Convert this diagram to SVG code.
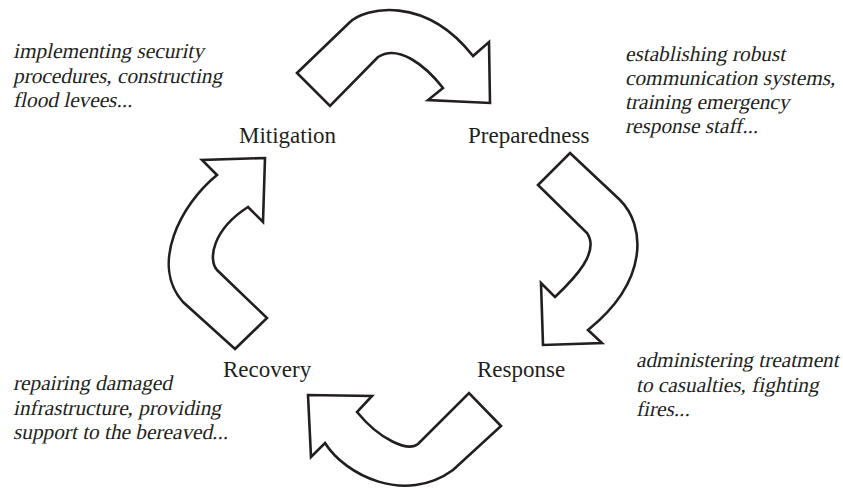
<svg xmlns="http://www.w3.org/2000/svg" width="843" height="490" viewBox="0 0 843 490">
<style>
.lbl{font-family:"Liberation Serif","Times New Roman",serif;font-size:23px;fill:#231f20}
.desc{font-family:"Liberation Serif","Times New Roman",serif;font-size:21.3px;fill:#231f20}
.arr{fill:#fff;stroke:#231f20;stroke-width:2.6;stroke-linejoin:miter}
</style>
<rect width="843" height="490" fill="#fff"/>
<g id="connectors">
<path class="arr" d="M297,73 L349,23 C365,7 425,-5 473,56 L489,42 L490,103 L428,100 L443,88 C425,65 398,44 378,57 L330,106 Z"/>
<path class="arr" d="M570,153 L620,200 C645,225 650,280 588,330 L602,343 L543,345 L541,283 L555,297 C575,278 600,252 587,233 L538,185 Z"/>
<path class="arr" d="M501,426 L469,393 L418,444 C408,452 380,440 357,412 L372,396 L308,395 L311,457 L325,443 C345,475 405,505 453,470 Z"/>
<path class="arr" d="M235,349 L267,318 L217,270 C208,260 212,230 248,207 L263,222 L265,158 L202,160 L217,175 C180,205 150,265 183,302 Z"/>
</g>
<g id="mitigation">
<text class="lbl" x="239" y="143">Mitigation</text>
<text class="desc" transform="translate(13,58) skewX(-12)">implementing security</text>
<text class="desc" transform="translate(13,82.5) skewX(-12)">procedures, constructing</text>
<text class="desc" transform="translate(13,107) skewX(-12)">flood levees...</text>
</g>
<g id="preparedness">
<text class="lbl" x="468" y="143">Preparedness</text>
<text class="desc" transform="translate(625,61) skewX(-12)">establishing robust</text>
<text class="desc" transform="translate(625,85) skewX(-12)">communication systems,</text>
<text class="desc" transform="translate(625,109) skewX(-12)">training emergency</text>
<text class="desc" transform="translate(625,133) skewX(-12)">response staff...</text>
</g>
<g id="response">
<text class="lbl" x="477" y="377">Response</text>
<text class="desc" transform="translate(636,367) skewX(-12)">administering treatment</text>
<text class="desc" transform="translate(636,391.5) skewX(-12)">to casualties, fighting</text>
<text class="desc" transform="translate(636,416) skewX(-12)">fires...</text>
</g>
<g id="recovery">
<text class="lbl" x="223" y="377">Recovery</text>
<text class="desc" transform="translate(13,390) skewX(-12)">repairing damaged</text>
<text class="desc" transform="translate(13,414.5) skewX(-12)">infrastructure, providing</text>
<text class="desc" transform="translate(13,439) skewX(-12)">support to the bereaved...</text>
</g>
</svg>
